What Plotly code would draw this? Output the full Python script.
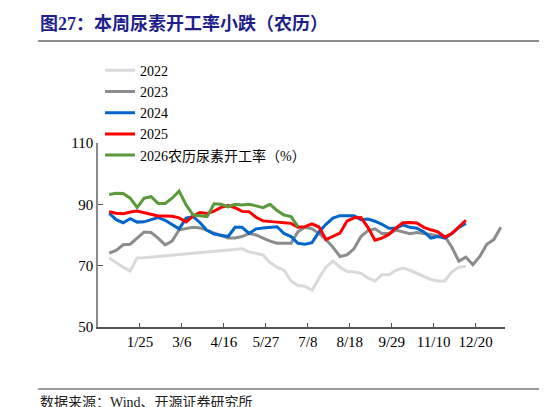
import plotly.graph_objects as go

weeks_start = -1
s2022 = [72.5,71,69.5,68.3,72.5,72.6,72.8,73,73.2,73.4,73.6,73.8,74,74.2,74.4,74.6,74.8,75,75.2,75.5,74.5,74,73.5,71,69.5,68.5,65,63.5,63.3,62,66,69.5,71.5,69.5,68.1,68,67.5,66,65,67,67,68.5,69.2,68.5,67.5,66.5,65.5,65,65,68,69.5,69.8]
s2023 = [74.1,75,76.8,77,79,81,80.8,79,76.8,78,81.7,82,82.5,82.3,81.5,80.5,79.8,79,79,79.5,80.5,80,79,78,77.3,77.3,77.3,81.1,82.5,82,80.5,78.5,76,73,73.5,75.5,79.5,81.4,82,80.5,80.5,81.6,81,80.4,80.8,80.6,80.2,79.7,79.6,76,71.5,72.8,70.3,73,77,78.5,82.5]
s2024 = [87.1,85,84,85.3,84.2,84.3,85,85.7,84.8,83.5,82,85.5,86,84,81.5,80.3,79.8,79.5,82.5,82.5,80.5,82,82.3,82.5,82.7,80.5,79.5,77.3,77,77.5,81,83.5,85.5,86.3,86.3,86.3,85,85.2,84.5,83.5,82.2,82.2,83.3,82.5,82.2,81,79,79.5,79,80.5,82.5,83.8]
s2025 = [87.6,87.1,86.9,87.5,87.8,87.3,86.7,86.2,86.2,86.1,85.6,84.3,86.2,87.3,87,87.8,89,89.6,88.9,87.7,87.6,85.8,84.6,84.3,84.2,84,83.8,82.5,82.7,83.6,82.6,78.5,79.5,80.6,84.5,85.6,85.7,82.5,78.3,79,80.2,82.3,84,84.1,83.9,82.5,81.7,81,79.3,80.5,82.6,84.8]
s2026 = [93.2,93.6,93.5,92,89,92,92.5,90.3,90.3,92,94.3,89.8,86.5,86.2,86,90.2,90,89.2,90,89.8,90,89.5,88.9,90,88,86.5,86,82.7]

tick_labels = ["1/25","3/6","4/16","5/27","7/8","8/18","9/29","11/10","12/20"]
tick_pos = [3.4 + 6*i for i in range(len(tick_labels))]

series = [("2022", s2022, "#d9d9d9"), ("2023", s2023, "#8c8c8c"),
          ("2024", s2024, "#0066cc"), ("2025", s2025, "#ff0000"),
          ("2026农历尿素开工率（%）", s2026, "#5b9a3c")]

fig = go.Figure()
for name, vals, col in series:
    fig.add_trace(go.Scatter(x=list(range(weeks_start, weeks_start+len(vals))), y=vals,
                             mode="lines", name=name, line=dict(color=col, width=3)))

serif = "Liberation Serif, Noto Sans CJK SC"
fig.update_layout(
    width=547, height=407, plot_bgcolor="white", paper_bgcolor="white",
    margin=dict(l=90, r=50, t=135, b=88, autoexpand=False),
    font=dict(family=serif, size=15, color="black"),
    legend=dict(x=0.005, y=1.48, xanchor="left", yanchor="top", bgcolor="rgba(0,0,0,0)",
                tracegroupgap=0, itemwidth=30, font=dict(size=14, family=serif)),
    xaxis=dict(range=[-2.6, 55.6], tickvals=tick_pos, ticktext=tick_labels, showgrid=False,
               showline=True, linecolor="#555", linewidth=1.5, ticks="inside", ticklen=4,
               tickcolor="#555", zeroline=False),
    yaxis=dict(range=[50, 110], tickvals=[50,70,90,110], showgrid=False, showline=True,
               linecolor="#888", linewidth=1.5, ticks="inside", ticklen=5, tickcolor="#555",
               zeroline=False),
    shapes=[dict(type="line", xref="paper", yref="paper", x0=-0.147, x1=1.115, y0=1.554, y1=1.554,
                 line=dict(color="#666", width=1.5)),
            dict(type="line", xref="paper", yref="paper", x0=-0.147, x1=1.115, y0=-0.337, y1=-0.337,
                 line=dict(color="#333", width=1))],
    annotations=[dict(text="<b>图27：本周尿素开工率小跌（农历）</b>", xref="paper", yref="paper",
                      x=-0.147, y=1.58, xanchor="left", yanchor="bottom", showarrow=False,
                      font=dict(size=18, color="#1f1f8c", family=serif)),
                 dict(text="数据来源：Wind、开源证券研究所", xref="paper", yref="paper",
                      x=-0.147, y=-0.36, xanchor="left", yanchor="top", showarrow=False,
                      font=dict(size=14, color="#222", family=serif))],
)
fig.write_html("out.html")
